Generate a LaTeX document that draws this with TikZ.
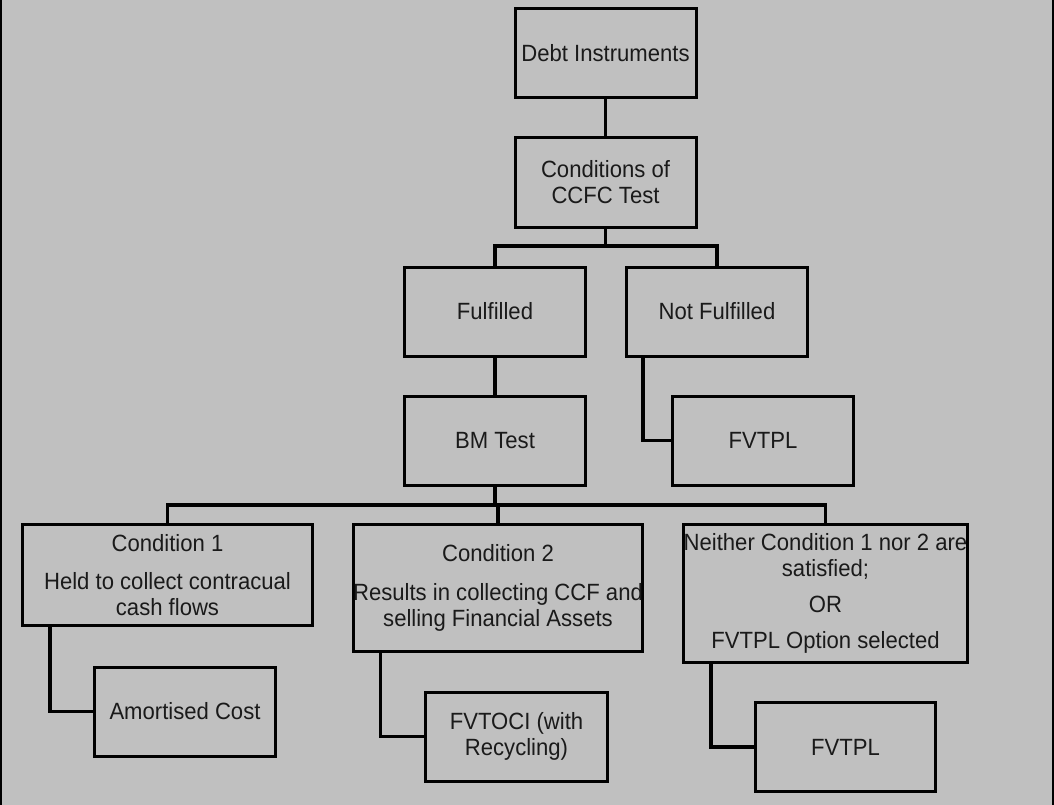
\documentclass[tikz,border=0pt]{standalone}
\usepackage{fontspec}
\setmainfont{Liberation Sans}[FakeStretch=0.94]
\usetikzlibrary{calc}
\definecolor{bg}{HTML}{C0C0C0}
\definecolor{ink}{HTML}{1A1A1A}
\begin{document}
\begin{tikzpicture}[x=1pt,y=-1pt,
  boxnode/.style={draw=black,line width=3pt,inner sep=0pt,align=center,
    text=ink,font=\fontsize{23.5pt}{26pt}\selectfont},
  smallbox/.style={boxnode,minimum width=181pt,minimum height=89pt},
  link/.style={draw=black,line width=3.5pt,line join=miter}]
\fill[bg] (0,0) rectangle (1054,805);
\useasboundingbox (0,0) rectangle (1054,805);
\fill[black] (0,0) rectangle (2,805);
\fill[black] (1052,0) rectangle (1054,805);

\node[smallbox] (debt) at (605.5,53) {Debt Instruments};
\node[smallbox] (ccfc) at (605.5,182.5) {Conditions of\\CCFC Test};
\node[smallbox] (ful) at (495,311.5) {Fulfilled};
\node[smallbox] (notf) at (717,311.5) {Not Fulfilled};
\node[smallbox] (bm) at (495,440.5) {BM Test};
\node[smallbox] (fv1) at (763,440.5) {FVTPL};
\node[boxnode,minimum width=290pt,minimum height=101pt] (c1) at (167.5,575)
  {Condition 1\\[12.5pt]Held to collect contracual\\cash flows};
\node[boxnode,minimum width=289pt,minimum height=127pt] (c2) at (498,588)
  {Condition 2\\[12.5pt]Results in collecting CCF and\\selling Financial Assets};
\node[boxnode,minimum width=284pt,minimum height=138pt] (nei) at (825.5,593.5)
  {Neither Condition 1 nor 2 are\\satisfied;\\[10pt]OR\\[10pt]FVTPL Option selected};
\node[smallbox] (amc) at (185,711.5) {Amortised Cost};
\node[smallbox,minimum width=182pt] (fvoci) at (516.5,736.5) {FVTOCI (with\\Recycling)};
\node[smallbox,minimum width=180pt] (fv2) at (845.5,747) {FVTPL};

\coordinate (j1) at (605.5,246);
\coordinate (j2) at (495,505);

\draw[link] (debt.south) -- (ccfc.north);
\draw[link] (ccfc.south) -- (j1);
\draw[link] (ful.north) |- (j1) -| (notf.north);
\draw[link] (ful.south) -- (bm.north);
\draw[link] ($(notf.south west)+(18,0)$) |- (fv1.west);
\draw[link] (bm.south) -- (j2);
\draw[link] (c1.north) |- (j2) -| (nei.north);
\draw[link] (c2.north) -- (c2.north |- j2);
\draw[link] ($(c1.south west)+(29,0)$) |- (amc.west);
\draw[link] ($(c2.south west)+(29,0)$) |- (fvoci.west);
\draw[link] ($(nei.south west)+(29,0)$) |- (fv2.west);
\end{tikzpicture}
\end{document}
